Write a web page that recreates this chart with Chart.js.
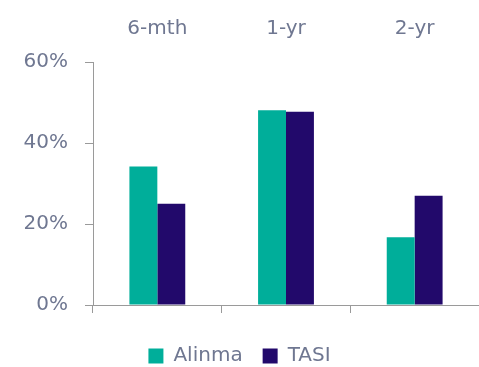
<!DOCTYPE html>
<html>
<head>
<meta charset="utf-8">
<script src="https://cdn.jsdelivr.net/npm/chart.js@4"></script>
<style>
    html, body { margin: 0; padding: 0; background: #fff; }
    #wrap { width: 479px; height: 367px; }
</style>
</head>
<body>
<div id="wrap"><canvas id="perf-chart" width="479" height="367"></canvas></div>
<script>
// Periodos e retornos
const periods = ['6-mth', '1-yr', '2-yr'];
const alinmaReturns = [34.2, 48.1, 16.7];
const tasiReturns = [25.0, 47.7, 27.0];
const yTicks = [0, 20, 40, 60];

const textColor = '#6f7791';
const axisColor = '#9a9a9a';
const fontFamily = '"DejaVu Sans", sans-serif';

const ctx = document.getElementById('perf-chart').getContext('2d');

new Chart(ctx, {
    type: 'bar',
    data: {
        labels: periods,
        datasets: [{
            label: 'Alinma',
            data: alinmaReturns,
            backgroundColor: '#00ae9a',
            borderWidth: 0
        }, {
            label: 'TASI',
            data: tasiReturns,
            backgroundColor: '#22096b',
            borderWidth: 0
        }]
    },
    options: {
        responsive: false,
        animation: false,
        categoryPercentage: 0.434,
        barPercentage: 1.0,
        layout: {
            padding: { left: 0, right: 0, top: 0, bottom: -9 }
        },
        plugins: {
            legend: {
                position: 'bottom',
                labels: {
                    boxWidth: 15,
                    boxHeight: 15,
                    padding: 20,
                    color: textColor,
                    font: { family: fontFamily, size: 20 }
                }
            },
            tooltip: { enabled: false }
        },
        scales: {
            x: {
                position: 'bottom',
                offset: true,
                ticks: { display: false },
                grid: {
                    offset: true,
                    drawOnChartArea: false,
                    tickLength: 8,
                    color: axisColor
                },
                border: { color: axisColor, width: 1 },
                afterFit: function(scale) { scale.height = 21; }
            },
            x2: {
                type: 'category',
                labels: periods,
                position: 'top',
                offset: true,
                grid: { display: false },
                border: { display: false },
                ticks: {
                    color: textColor,
                    font: { family: fontFamily, size: 20 },
                    padding: 13
                },
                afterFit: function(scale) { scale.height = 62; }
            },
            y: {
                min: 0,
                max: 60,
                afterBuildTicks: function(scale) {
                    scale.ticks = yTicks.map(v => ({ value: v }));
                },
                ticks: {
                    color: textColor,
                    font: { family: fontFamily, size: 20 },
                    padding: 17,
                    callback: function(value) { return value + '%'; }
                },
                grid: {
                    drawOnChartArea: false,
                    tickLength: 8,
                    color: axisColor
                },
                border: { color: axisColor, width: 1 },
                afterFit: function(scale) { scale.width = 93; }
            }
        }
    }
});
</script>
</body>
</html>
